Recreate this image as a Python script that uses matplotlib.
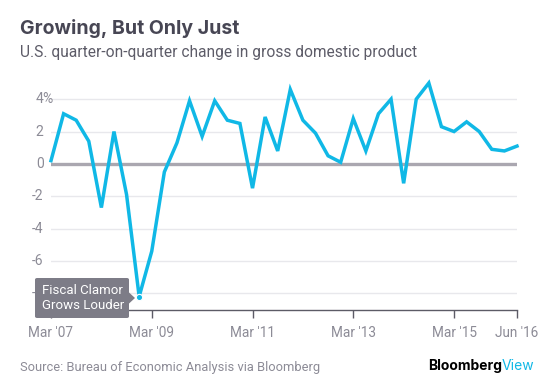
import matplotlib.pyplot as plt
from matplotlib.patches import FancyBboxPatch, Polygon

# US GDP, quarter-on-quarter change (annualized %), Mar 2007 - Jun 2016
gdp = [0.2, 3.1, 2.7, 1.4, -2.7, 2.0, -1.9, -8.2, -5.4, -0.5,
       1.3, 3.9, 1.7, 3.9, 2.7, 2.5, -1.5, 2.9, 0.8, 4.6,
       2.7, 1.9, 0.5, 0.1, 2.8, 0.8, 3.1, 4.0, -1.2, 4.0,
       5.0, 2.3, 2.0, 2.6, 2.0, 0.9, 0.8, 1.1]
quarters = list(range(len(gdp)))

x_ticks = [0, 8, 16, 24, 32, 37]
x_labels = ["Mar '07", "Mar '09", "Mar '11", "Mar '13", "Mar '15", "Jun '16"]
y_ticks = [-8, -6, -4, -2, 2, 4]
y_labels = ["-8", "-6", "-4", "-2", "2", "4"]

annot_idx = 7
annot_text = "Fiscal Clamor\nGrows Louder"

CYAN = "#10b8e6"
GREY_TXT = "#8c8b96"
TITLE_C = "#474654"
FONT = "Roboto"

W, H = 557, 392
fig = plt.figure(figsize=(W / 100, H / 100), dpi=100)
fig.patch.set_facecolor("white")

ax = fig.add_axes([51 / W, (H - 309.5) / H, 466 / W, (309.5 - 83) / H])
ax.set_xlim(0, len(gdp) - 1)
ax.set_ylim(-9, 5)

# gridlines
for v in y_ticks:
    ax.axhline(v, color="#e8e8ec", lw=1, zorder=1)
ax.axhline(0, color="#aaa7b0", lw=2.4, zorder=2)

ax.plot(quarters, gdp, color=CYAN, lw=2.5, solid_joinstyle="miter",
        zorder=4, clip_on=False)

for s in ["top", "right", "left"]:
    ax.spines[s].set_visible(False)
ax.spines["bottom"].set_color("#5c5b66")
ax.spines["bottom"].set_linewidth(1)

ax.set_xticks(x_ticks)
ax.set_xticklabels(x_labels, fontsize=9.8, color=GREY_TXT, family=FONT)
ax.tick_params(axis="x", length=6, width=1, color="#5c5b66", pad=6)
ax.set_yticks([])

# y labels, with the % hanging off the top one
for v, lab in zip(y_ticks + [0], y_labels + ["0"]):
    ax.text(-0.016, v, lab, transform=ax.get_yaxis_transform(), ha="right",
            va="center", fontsize=10, color=GREY_TXT, family=FONT, zorder=1)
ax.text(-0.018, 4, "%", transform=ax.get_yaxis_transform(), ha="left",
        va="center", fontsize=10, color=GREY_TXT, family=FONT)

# annotation box
px, py = annot_idx, gdp[annot_idx]
ax.plot([px], [py], "o", ms=4.5, color=CYAN, mec="white", mew=0.8,
        zorder=6, clip_on=False)
box = FancyBboxPatch((35 / W, (H - 318) / H), 94 / W, 40 / H,
                     boxstyle="round,pad=0,rounding_size=0.004",
                     transform=fig.transFigure, fc="#7d7c87", ec="none",
                     zorder=10)
fig.add_artist(box)
tri = Polygon([[128.5 / W, (H - 292) / H], [135 / W, (H - 298) / H],
               [128.5 / W, (H - 304) / H]], closed=True,
              transform=fig.transFigure, fc="#7d7c87", ec="none", zorder=10)
fig.add_artist(tri)
fig.text(42 / W, (H - 298) / H, annot_text, ha="left", va="center",
         fontsize=9.5, color="white", family=FONT, linespacing=1.2,
         zorder=11)

# titles
fig.text(20 / W, (H - 29) / H, "Growing, But Only Just", ha="left",
         va="center", fontsize=14, fontweight="bold", color=TITLE_C,
         family="Inter")
fig.text(20 / W, (H - 52) / H,
         "U.S. quarter-on-quarter change in gross domestic product",
         ha="left", va="center", fontsize=11.2, color="#5d5c68", family=FONT)

# footer
fig.text(20 / W, (H - 367) / H,
         "Source: Bureau of Economic Analysis via Bloomberg",
         ha="left", va="center", fontsize=9.3, color=GREY_TXT, family=FONT)
fig.text(502 / W, (H - 366) / H, "Bloomberg", ha="right", va="center",
         fontsize=10, fontweight="bold", color="black", family="Inter")
fig.text(502 / W, (H - 366) / H, "View", ha="left", va="center",
         fontsize=10, color=CYAN, family="Inter")

fig.savefig("out.png", dpi=100)
